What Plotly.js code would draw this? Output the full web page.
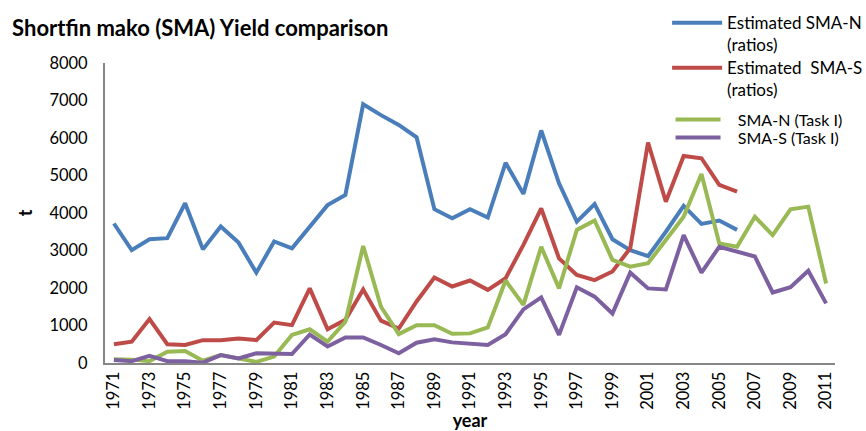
<!DOCTYPE html>
<html>
<head>
<meta charset="utf-8">
<script src="https://cdn.plot.ly/plotly-3.0.1.min.js"></script>
<style>html,body{margin:0;padding:0;background:#fff;}#chart{width:866px;height:431px;}</style>
</head>
<body>
<div id="chart"></div>
<script>
const years = [1971,1972,1973,1974,1975,1976,1977,1978,1979,1980,1981,1982,1983,1984,1985,1986,1987,1988,1989,1990,1991,1992,1993,1994,1995,1996,1997,1998,1999,2000,2001,2002,2003,2004,2005,2006,2007,2008,2009,2010,2011];
const estN = [3720,3010,3300,3330,4260,3030,3640,3210,2410,3240,3060,3640,4210,4480,6900,6610,6350,6020,4100,3860,4100,3880,5340,4510,6200,4790,3770,4240,3300,3010,2850,3500,4190,3710,3800,3550,null,null,null,null,null];
const estS = [500,570,1170,500,480,610,610,650,610,1080,1010,1990,900,1150,1960,1130,920,1640,2280,2040,2200,1950,2260,3150,4120,2790,2350,2210,2440,3060,5880,4300,5520,5460,4750,4570,null,null,null,null,null];
const taskN = [100,90,50,300,320,60,210,120,30,170,750,900,570,1100,3120,1500,770,1010,1010,780,790,950,2200,1550,3100,1990,3550,3800,2750,2570,2660,3280,3900,5040,3190,3100,3900,3410,4100,4170,2120];
const taskS = [80,50,190,50,50,10,210,120,260,240,240,760,440,680,680,480,260,540,630,550,520,480,770,1430,1750,750,2020,1770,1320,2410,1990,1960,3410,2410,3100,2970,2840,1880,2020,2460,1590];
const names = ["Estimated SMA-N<br>(ratios)", "Estimated  SMA-S<br>(ratios)", "\u00a0\u00a0\u00a0SMA-N (Task I)", "\u00a0\u00a0\u00a0SMA-S (Task I)"];
const legendIds = ["legend", "legend2", "legend3", "legend4"];
const colors = ["#4A7EBB", "#BE4B48", "#98B954", "#7D60A0"];
const series = [estN, estS, taskN, taskS];

const font = "Lato, 'Open Sans', sans-serif";
const traces = series.map((s, i) => ({
  x: years, y: s, type: "scatter", mode: "lines", name: names[i], legend: legendIds[i],
  line: {color: colors[i], width: 4}, connectgaps: false
}));

function leg(x, y, size, w) {
  return {x: x, y: y, xanchor: "left", yanchor: "top", bgcolor: "rgba(0,0,0,0)",
          font: {size: size, family: font, color: "#000"}, valign: "top", itemwidth: w};
}

const layout = {
  width: 866, height: 431,
  margin: {l: 105, r: 31, t: 63, b: 68, autoexpand: false},
  paper_bgcolor: "#fff", plot_bgcolor: "#fff",
  font: {family: font, color: "#000", size: 16},
  title: {text: "<b>Shortfin mako (SMA) Yield comparison</b>", x: 0.014, xanchor: "left", y: 0.935, yanchor: "middle",
          font: {family: font, size: 22, color: "#000"}},
  xaxis: {range: [1970.5, 2011.5], tick0: 1971, dtick: 2, tickangle: -90, tickformat: "d",
          showgrid: false, zeroline: false, showline: true, linecolor: "#868686", linewidth: 2,
          ticks: "", tickfont: {size: 16.5, family: font},
          title: {text: "<b>year</b>", font: {size: 18, family: font}, standoff: 10}},
  yaxis: {range: [0, 8000], dtick: 1000, showgrid: false, zeroline: false, showline: true,
          linecolor: "#868686", linewidth: 2, ticks: "", tickfont: {size: 16.5, family: font},
          ticklabelstandoff: 12,
          title: {text: "<b>t</b>", font: {size: 18, family: font}, standoff: 12}},
  showlegend: true,
  legend: leg(0.77, 1.193, 17, 50),
  legend2: leg(0.77, 1.043, 17, 50),
  legend3: leg(0.7747, 0.8683, 16, 45),
  legend4: leg(0.7747, 0.8083, 16, 45)
};
Plotly.newPlot("chart", traces, layout, {displayModeBar: false, staticPlot: true});
</script>
</body>
</html>
